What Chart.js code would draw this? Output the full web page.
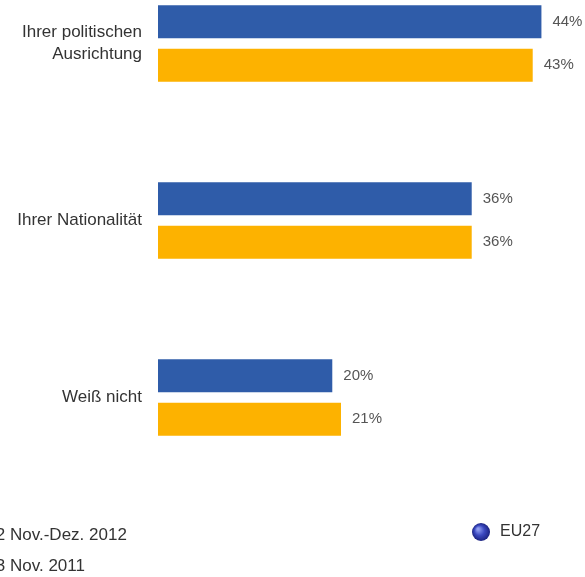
<!DOCTYPE html>
<html>
<head>
<meta charset="utf-8">
<script src="https://cdn.jsdelivr.net/npm/chart.js@4"></script>
<style>
  html, body { margin: 0; padding: 0; background: #fff; overflow: hidden; }
  #wrap { position: relative; width: 585px; height: 577px; overflow: hidden; }
  #chart { position: absolute; left: 0; top: -45px; }
</style>
</head>
<body>
<div id="wrap">
  <canvas id="chart" width="585" height="622"></canvas>
</div>
<script>
var kategorien = [['Ihrer politischen', 'Ausrichtung'], 'Ihrer Nationalität', 'Weiß nicht'];
var werte2012 = [44, 36, 20];
var werte2011 = [43, 36, 21];
var legende = ['EB78.2 Nov.-Dez. 2012', 'EB76.3 Nov. 2011'];
var raumLabel = 'EU27';

var blau = '#2f5ca9';
var gelb = '#fdb200';

// value labels at the end of each bar
var prozentLabels = {
    id: 'prozentLabels',
    afterDatasetsDraw: function (chart) {
        var ctx = chart.ctx;
        ctx.save();
        ctx.font = '15px "Liberation Sans", Arial, sans-serif';
        ctx.fillStyle = '#555';
        ctx.textAlign = 'left';
        ctx.textBaseline = 'middle';
        chart.data.datasets.forEach(function (ds, i) {
            chart.getDatasetMeta(i).data.forEach(function (bar, j) {
                ctx.fillText(ds.data[j] + '%', bar.x + 11, bar.y);
            });
        });
        ctx.restore();
    }
};

// legend rows at the bottom and the EU27 globe
var fussLegende = {
    id: 'fussLegende',
    afterDraw: function (chart) {
        var ctx = chart.ctx;
        ctx.save();
        ctx.font = '17px "Liberation Sans", Arial, sans-serif';
        ctx.fillStyle = '#333';
        ctx.textBaseline = 'middle';
        ctx.textAlign = 'left';
        var ys = [580, 611];
        legende.forEach(function (txt, i) {
            var prefix = txt.slice(0, txt.indexOf(' ') + 1);
            var x0 = 10 - ctx.measureText(prefix).width;
            ctx.fillText(txt, x0, ys[i]);
        });

        var gx = 481, gy = 577, r = 9;
        var g = ctx.createRadialGradient(gx - 3, gy - 3, 1, gx, gy, r);
        g.addColorStop(0, '#8e9cf0');
        g.addColorStop(0.5, '#3b49c0');
        g.addColorStop(1, '#1b2380');
        ctx.beginPath();
        ctx.arc(gx, gy, r, 0, Math.PI * 2);
        ctx.fillStyle = g;
        ctx.fill();
        ctx.fillStyle = '#333';
        ctx.font = '16px "Liberation Sans", Arial, sans-serif';
        ctx.fillText(raumLabel, 500, gy);
        ctx.restore();
    }
};

var ctx = document.getElementById('chart').getContext('2d');
var chart = new Chart(ctx, {
    type: 'bar',
    data: {
        labels: kategorien,
        datasets: [{
            label: legende[0],
            data: werte2012,
            backgroundColor: blau,
            categoryPercentage: 0.49,
            barPercentage: 0.76
        }, {
            label: legende[1],
            data: werte2011,
            backgroundColor: gelb,
            categoryPercentage: 0.49,
            barPercentage: 0.76
        }]
    },
    options: {
        indexAxis: 'y',
        responsive: false,
        animation: false,
        layout: { padding: { top: 0, right: 0, bottom: 91, left: 0 } },
        plugins: {
            legend: { display: false },
            tooltip: { enabled: false }
        },
        scales: {
            x: {
                display: false,
                min: 0,
                max: 49
            },
            y: {
                grid: { display: false },
                border: { display: false },
                ticks: {
                    padding: 8,
                    color: '#333',
                    font: { family: '"Liberation Sans", Arial, sans-serif', size: 17, lineHeight: 1.3 }
                },
                afterFit: function (scale) {
                    scale.width = 158;
                    scale.paddingTop = 0;
                    scale.paddingBottom = 0;
                }
            }
        }
    },
    plugins: [prozentLabels, fussLegende]
});
</script>
</body>
</html>
